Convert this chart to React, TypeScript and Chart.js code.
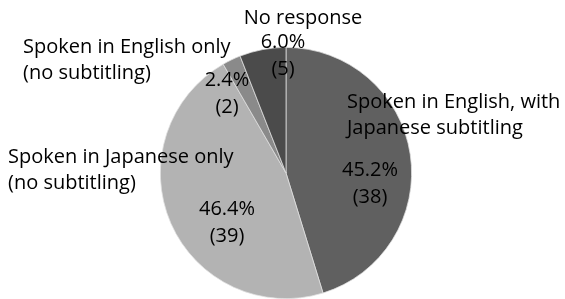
import React, { useEffect, useRef } from "react";
import { Chart, registerables } from "chart.js";

Chart.register(...registerables);

const categories = [
  "Spoken in English, with Japanese subtitling",
  "Spoken in Japanese only (no subtitling)",
  "Spoken in English only (no subtitling)",
  "No response",
];
const counts = [38, 39, 2, 5];
const percents = ["45.2%", "46.4%", "2.4%", "6.0%"];
const colors = ["#606060", "#b3b3b3", "#8a8a8a", "#4b4b4b"];

const FONT = "20px 'Open Sans', Lato, sans-serif";

// label layout (relative to pie centre, in px)
const catLines = [
  ["Spoken in English, with", "Japanese subtitling"],
  ["Spoken in Japanese only", "(no subtitling)"],
  ["Spoken in English only", "(no subtitling)"],
  ["No response"],
];
const catPos = [
  { dx: 61, dy: -71, align: "left" },
  { dx: -278, dy: -16, align: "left" },
  { dx: -263, dy: -126, align: "left" },
  { dx: 17, dy: -155, align: "center" },
];
const pctPos = [
  { dx: 84, dy: 11 },
  { dx: -59, dy: 50 },
  { dx: -59, dy: -79 },
  { dx: -3, dy: -117 },
];

const labelPlugin = {
  id: "pieLabels",
  afterDraw(chart: any) {
    const arc = chart.getDatasetMeta(0).data[0];
    if (!arc) return;
    const cx = arc.x;
    const cy = arc.y;
    const ctx = chart.ctx;
    ctx.save();
    ctx.font = FONT;
    ctx.fillStyle = "#000";
    ctx.textBaseline = "middle";
    const lh = 26;
    catLines.forEach((lines, i) => {
      const p = catPos[i];
      ctx.textAlign = p.align;
      lines.forEach((t, j) => ctx.fillText(t, cx + p.dx, cy + p.dy + j * lh));
    });
    ctx.textAlign = "center";
    const plh = 27.5;
    percents.forEach((t, i) => {
      const p = pctPos[i];
      ctx.fillText(t, cx + p.dx, cy + p.dy - plh / 2);
      ctx.fillText("(" + counts[i] + ")", cx + p.dx, cy + p.dy + plh / 2);
    });
    ctx.restore();
  },
};

export default function App() {
  const ref = useRef<HTMLCanvasElement>(null);
  useEffect(() => {
    document.body.style.margin = "0";
    const chart = new Chart(ref.current!, {
      type: "pie",
      data: {
        labels: categories,
        datasets: [
          {
            data: counts,
            backgroundColor: colors,
            borderColor: "#e0e0e0",
            borderWidth: 0.75,
          },
        ],
      },
      options: {
        animation: false,
        responsive: false,
        layout: { padding: { top: 47, left: 7, right: 0, bottom: 0 } },
        plugins: { legend: { display: false }, tooltip: { enabled: false } },
      },
      plugins: [labelPlugin],
    });
    return () => chart.destroy();
  }, []);
  return (
    <div style={{ width: 565, height: 299, background: "#fff" }}>
      <canvas ref={ref} width={565} height={299} />
    </div>
  );
}
